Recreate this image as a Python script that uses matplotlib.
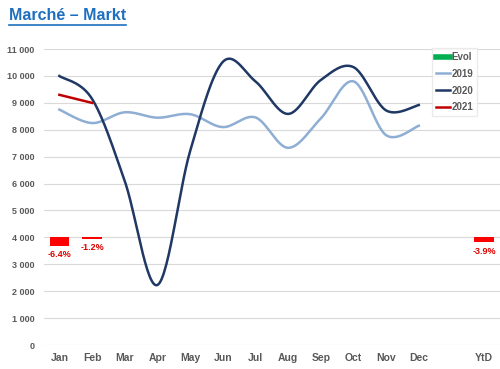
import numpy as np
import matplotlib
matplotlib.use("Agg")
import matplotlib.pyplot as plt
from matplotlib.lines import Line2D

months = ["Jan", "Feb", "Mar", "Apr", "May", "Jun", "Jul", "Aug", "Sep", "Oct", "Nov", "Dec"]
categories = months + ["", "YtD"]
s2019 = [8750, 8250, 8650, 8450, 8580, 8100, 8460, 7330, 8420, 9800, 7800, 8150]
s2020 = [10000, 9150, 6100, 2230, 7200, 10520, 9800, 8590, 9850, 10330, 8720, 8920]
s2021 = [9300, 9000]
evol_pos = [0, 1, 13]
evol_pct = [-6.4, -1.2, -3.9]
evol_labels = ["-6.4%", "-1.2%", "-3.9%"]
evol_base = 4000
evol_scale = 48  # units per percent
yticks = list(range(0, 11001, 1000))

plt.rcParams['font.family'] = ['Liberation Sans', 'DejaVu Sans']

def smooth(y, n=30):
    y = np.asarray(y, float)
    x = np.arange(len(y), dtype=float)
    if len(y) < 3:
        return x, y
    xs, ys = [], []
    for i in range(len(y) - 1):
        p0 = (x[i-1], y[i-1]) if i > 0 else (x[i], y[i])
        p1 = (x[i], y[i]); p2 = (x[i+1], y[i+1])
        p3 = (x[i+2], y[i+2]) if i + 2 < len(y) else (x[i+1], y[i+1])
        c1 = (p1[0] + (p2[0]-p0[0])/6, p1[1] + (p2[1]-p0[1])/6)
        c2 = (p2[0] - (p3[0]-p1[0])/6, p2[1] - (p3[1]-p1[1])/6)
        t = np.linspace(0, 1, n)
        bx = (1-t)**3*p1[0] + 3*(1-t)**2*t*c1[0] + 3*(1-t)*t**2*c2[0] + t**3*p2[0]
        by = (1-t)**3*p1[1] + 3*(1-t)**2*t*c1[1] + 3*(1-t)*t**2*c2[1] + t**3*p2[1]
        xs.extend(bx); ys.extend(by)
    return np.array(xs), np.array(ys)

fig = plt.figure(figsize=(5.0, 3.69), dpi=100)
ax = fig.add_axes([0.088, 0.065, 0.911, 0.802])

gray = "#595959"
ax.set_ylim(0, 11000)
ax.set_xlim(-0.47, 13.47)
ax.set_yticks(yticks)
ax.set_yticklabels([f"{v:,}".replace(",", " ") for v in yticks], fontsize=6.5, color=gray, fontweight='bold')
ax.set_xticks(range(len(categories)))
ax.set_xticklabels(categories, fontsize=7.5, color=gray, fontweight='bold')
ax.tick_params(length=0, pad=6)
ax.tick_params(axis='y', pad=7)
ax.grid(axis='y', color="#D9D9D9", linewidth=0.8)
ax.set_axisbelow(True)
for sp in ax.spines.values():
    sp.set_visible(False)

# evolution bars
heights = [p * evol_scale for p in evol_pct]
ax.bar(evol_pos, heights, bottom=evol_base, width=0.6, color="#FF0000", zorder=3)
for xp, h, lab in zip(evol_pos, heights, evol_labels):
    ax.annotate(lab, (xp, evol_base + h), xytext=(0, -3), textcoords='offset points',
                ha='center', va='top', fontsize=6.5, color="#E00000", fontweight='bold')

c2019 = "#8EAED4"
c2020 = "#1F3864"
c2021 = "#C00000"
x, y = smooth(s2019)
ax.plot(x, y, color=c2019, lw=1.8, zorder=4)
x, y = smooth(s2020)
ax.plot(x, y, color=c2020, lw=1.8, zorder=5)
x = np.arange(len(s2021))
ax.plot(x, s2021, color=c2021, lw=1.8, zorder=6)

handles = [Line2D([], [], color="#00B050", lw=4),
           Line2D([], [], color=c2019, lw=1.8),
           Line2D([], [], color=c2020, lw=1.8),
           Line2D([], [], color=c2021, lw=1.8)]
leg = ax.legend(handles, ["Evol", "2019", "2020", "2021"], loc='upper right',
                bbox_to_anchor=(0.962, 1.02), fontsize=7, frameon=True, fancybox=False,
                handlelength=1.4, handletextpad=0.2, borderpad=0.4, labelspacing=0.7,
                edgecolor="#E6E6E6")
for t in leg.get_texts():
    t.set_color(gray)
    t.set_fontweight('bold')

title = fig.text(0.018, 0.945, "Marché – Markt", fontsize=11.5, fontweight='bold',
                 color="#1F6FC0", ha='left', va='baseline')
fig.canvas.draw()
bb = title.get_window_extent()
inv = fig.transFigure.inverted()
(x0, y0), (x1, y1) = inv.transform([(bb.x0, bb.y0), (bb.x1, bb.y1)])
fig.add_artist(Line2D([x0, x1], [0.945 - 0.012, 0.945 - 0.012], color="#1F6FC0", lw=1.2,
                      transform=fig.transFigure))

fig.savefig("out.png", dpi=100)
